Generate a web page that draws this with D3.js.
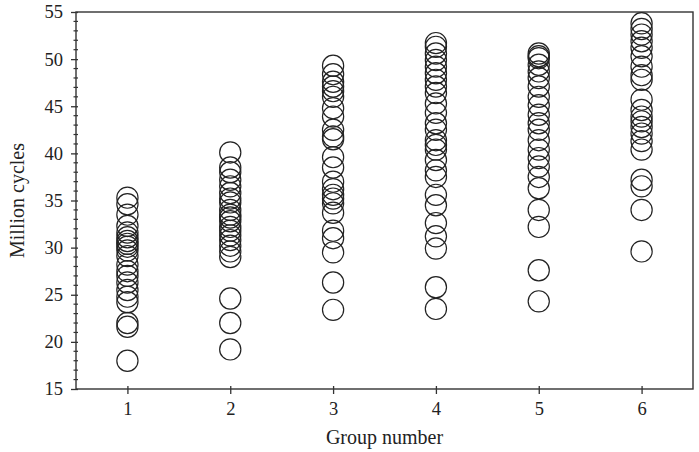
<!DOCTYPE html>
<html>
<head>
<meta charset="utf-8">
<script src="https://cdn.jsdelivr.net/npm/d3@7/dist/d3.min.js"></script>
<style>
  html, body { margin: 0; padding: 0; background: #fff; }
  svg { display: block; }
  text { font-family: "Liberation Serif", "DejaVu Serif", serif; fill: #222; }
</style>
</head>
<body>
<svg id="chart" width="699" height="452"></svg>
<script>
// Fatigue life (million cycles) observed in each test group
const groups = [1, 2, 3, 4, 5, 6];
const group1 = [35.3, 34.6, 33.5, 32.3, 31.6, 31.1, 30.7, 30.4, 30.1, 29.7, 29.1, 28.2, 27.5, 27.0, 26.3, 25.5, 24.8, 24.2, 22.0, 21.6, 18.0];
const group2 = [40.1, 38.5, 38.0, 37.2, 36.5, 35.8, 35.2, 34.8, 34.0, 33.5, 33.2, 32.8, 32.2, 31.8, 31.3, 30.8, 30.2, 29.6, 29.0, 24.6, 22.0, 19.2];
const group3 = [49.3, 48.4, 47.6, 47.1, 46.6, 46.0, 44.8, 43.9, 42.5, 41.8, 41.5, 39.6, 38.5, 37.0, 36.2, 35.6, 35.2, 34.7, 33.7, 31.8, 31.0, 29.5, 26.3, 23.4];
const group4 = [51.7, 51.3, 50.6, 49.9, 49.2, 48.5, 47.8, 47.1, 46.4, 45.3, 44.3, 43.2, 42.5, 41.4, 40.9, 40.4, 39.3, 38.2, 37.5, 35.6, 34.5, 32.6, 31.2, 29.9, 25.8, 23.5];
const group5 = [50.6, 50.3, 50.1, 49.4, 48.7, 48.0, 47.1, 46.0, 45.1, 44.1, 43.2, 42.5, 41.4, 40.4, 39.5, 38.6, 37.5, 36.3, 34.0, 32.2, 27.6, 24.3];
const group6 = [53.8, 53.2, 52.6, 51.9, 51.2, 50.3, 49.2, 48.3, 47.8, 45.7, 44.6, 43.9, 43.4, 42.8, 42.1, 41.3, 40.4, 37.2, 36.5, 34.0, 29.6];
const yTicks = [15, 20, 25, 30, 35, 40, 45, 50, 55];

const series = [group1, group2, group3, group4, group5, group6];
const points = series.flatMap((vals, i) => vals.map(v => ({ group: groups[i], value: v })));

const svg = d3.select("#chart");
const margin = { top: 12, right: 6, bottom: 63, left: 76 };
const W = 699, H = 452;
const innerW = W - margin.left - margin.right;
const innerH = H - margin.top - margin.bottom;
const g = svg.append("g").attr("transform", `translate(${margin.left},${margin.top})`);

const x = d3.scaleLinear().domain([0.5, 6.5]).range([0, innerW]);
const y = d3.scaleLinear().domain([15, 55]).range([innerH, 0]);

const axisColor = "#333";

// Frame around the plotting area
g.append("rect")
  .attr("x", 0).attr("y", 0)
  .attr("width", innerW).attr("height", innerH)
  .attr("fill", "none").attr("stroke", axisColor).attr("stroke-width", 1.4);

// Minor y ticks (every unit)
const minor = d3.range(15, 56, 1).filter(v => v % 5 !== 0);
g.append("g").selectAll("line").data(minor).join("line")
  .attr("x1", -2.5).attr("x2", 2).attr("y1", d => y(d)).attr("y2", d => y(d))
  .attr("stroke", axisColor).attr("stroke-width", 1.2);

// Y axis with major ticks
const yAxis = g.append("g")
  .call(d3.axisLeft(y).tickValues(yTicks).tickSize(5).tickPadding(8).tickFormat(d3.format("d")));
yAxis.select(".domain").remove();
yAxis.selectAll(".tick line").attr("stroke", axisColor).attr("stroke-width", 1.3).attr("x2", -5).attr("x1", 2);
yAxis.selectAll(".tick text").attr("font-size", 18.5).attr("font-family", "Liberation Serif").attr("fill", "#222");

// X axis
const xAxis = g.append("g").attr("transform", `translate(0,${innerH})`)
  .call(d3.axisBottom(x).tickValues(groups).tickSize(5).tickPadding(8).tickFormat(d3.format("d")));
xAxis.select(".domain").remove();
xAxis.selectAll(".tick line").attr("stroke", axisColor).attr("stroke-width", 1.3).attr("y1", -3).attr("y2", 5);
xAxis.selectAll(".tick text").attr("font-size", 18.5).attr("font-family", "Liberation Serif").attr("fill", "#222");

// Observations drawn as open circles
g.append("g").selectAll("circle").data(points).join("circle")
  .attr("cx", d => x(d.group))
  .attr("cy", d => y(d.value))
  .attr("r", 10.6)
  .attr("fill", "none")
  .attr("stroke", "#222")
  .attr("stroke-width", 1.2);

// Axis titles
svg.append("text")
  .attr("x", margin.left + innerW / 2).attr("y", 444)
  .attr("text-anchor", "middle").attr("font-size", 20)
  .text("Group number");

svg.append("text")
  .attr("transform", `translate(24,${margin.top + innerH / 2}) rotate(-90)`)
  .attr("text-anchor", "middle").attr("font-size", 20)
  .text("Million cycles");
</script>
</body>
</html>
